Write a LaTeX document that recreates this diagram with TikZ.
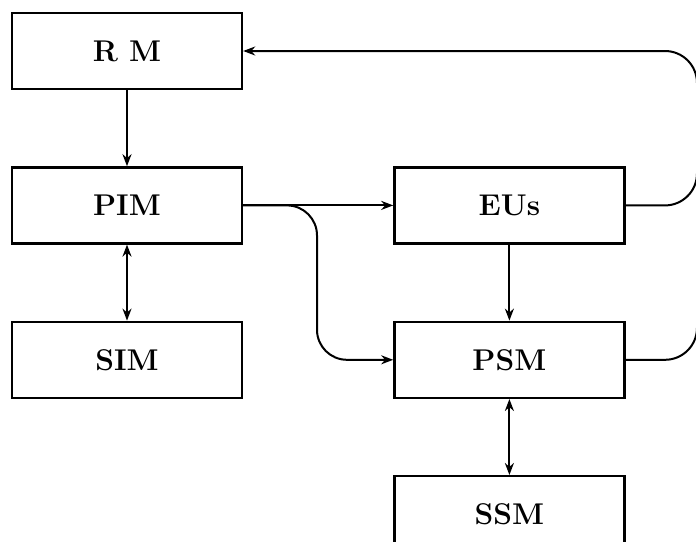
\documentclass[tikz,border=0pt]{standalone}
\usepackage{tikz}
\usetikzlibrary{arrows.meta, positioning}

\begin{document}
\begin{tikzpicture}[x=0.5pt, y=-0.5pt, node distance=38pt and 75pt,
        module/.style={rectangle, draw, line width=1.2pt, minimum width=115pt, minimum height=38pt, inner sep=0pt, font=\fontsize{15}{18}\selectfont\bfseries},
        line/.style={draw, line width=1pt, -{Stealth[length=6pt, width=4.5pt]}},
        both/.style={draw, line width=1pt, {Stealth[length=6pt, width=4.5pt]}-{Stealth[length=6pt, width=4.5pt]}}]
        \useasboundingbox (0,0) rectangle (696,541);

        \node [module] (rm) at (127,51) {R M};
        \node [module, below=of rm] (pim) {PIM};
        \node [module, below=of pim] (sim) {SIM};
        \node [module, right=of pim] (eus) {EUs};
        \node [module, below=of eus] (psm) {PSM};
        \node [module, below=of psm] (ssm) {SSM};

        \coordinate (split) at (317,280);
        \coordinate (loop) at (697,200);

        \path [line] (rm) -- (pim);
        \path [both] (pim) -- (sim);
        \path [line] (eus) -- (psm);
        \path [both] (psm) -- (ssm);
        \path [line] (pim.east) -- (eus.west);
        \path [line, rounded corners=15pt] (pim.east) -| (split) |- (psm.west);
        \path [line, rounded corners=16pt] (psm.east) -| (loop) |- (rm.east);
        \draw [line width=1pt, rounded corners=16pt] (eus.east) -| (loop);
    \end{tikzpicture}
\end{document}
